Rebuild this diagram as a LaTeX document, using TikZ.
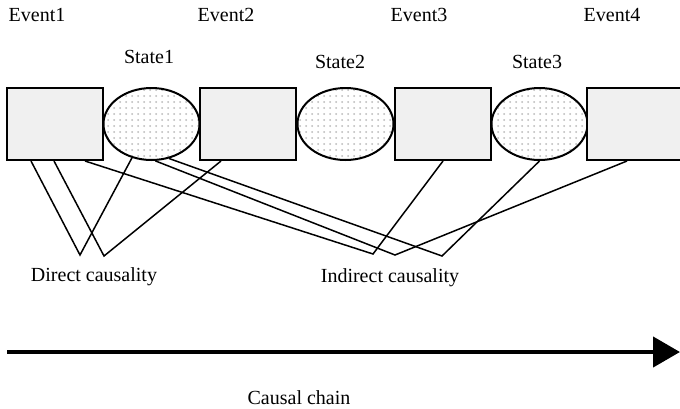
\documentclass[tikz,border=0pt]{standalone}
\usepackage{fontspec}
\setmainfont{Liberation Serif}
\usetikzlibrary{arrows.meta,patterns,shapes.geometric}
\tikzset{
  evbox/.style={rectangle, draw=black, line width=1pt, fill=gray!12, minimum width=48pt, minimum height=36pt, inner sep=0pt},
  stell/.style={ellipse, draw=black, line width=1pt, preaction={fill=white}, pattern=dots, pattern color=gray!55, minimum width=48pt, minimum height=36pt, inner sep=0pt},
  lbl/.style={font=\fontsize{10pt}{12pt}\selectfont, inner sep=0pt},
  link/.style={draw=black, line width=0.75pt, line join=miter},
  chain/.style={draw=black, line width=2.2pt, -{Triangle[length=13.5pt,width=15pt]}}
}
\begin{document}
\begin{tikzpicture}[x=0.5pt,y=-0.5pt]
\useasboundingbox[fill=white] (0,0) rectangle (680,408);
% boxes and ellipses
\node[evbox] (ev1) at (55,124) {};
\node[stell] (s1) at (151.5,124) {};
\node[evbox] (ev2) at (248,124) {};
\node[stell] (s2) at (345.5,124) {};
\node[evbox] (ev3) at (443,124) {};
\node[stell] (s3) at (539.5,124) {};
\node[evbox] (ev4) at (635,124) {};
% labels
\node[lbl] (t1) at (37,15) {Event1};
\node[lbl] (t2) at (226,15) {Event2};
\node[lbl] (t3) at (419,15) {Event3};
\node[lbl] (t4) at (612,15) {Event4};
\node[lbl] (u1) at (149,57) {State1};
\node[lbl] (u2) at (340,62) {State2};
\node[lbl] (u3) at (537,62) {State3};
\node[lbl] (dc) at (94,277) {Direct causality};
\node[lbl] (ic) at (390,278) {Indirect causality};
\node[lbl] (cc) at (299,398) {Causal chain};
% vertices
\coordinate (d1) at (80,255);
\coordinate (d2) at (104,256);
\coordinate (i1) at (373,254);
\coordinate (i2) at (395,255);
\coordinate (i3) at (442,256);
% direct causality
\draw[link] ([xshift=12.5pt]ev1.south west) -- (d1) -- (s1.240);
\draw[link] ([xshift=24pt]ev1.south west) -- (d2) -- ([xshift=11pt]ev2.south west);
% indirect causality
\draw[link] ([xshift=39.5pt]ev1.south west) -- (i1) -- (ev3.south);
\draw[link] (s1.276) -- (i2) -- ([xshift=20.5pt]ev4.south west);
\draw[link] (s1.297) -- (i3) -- (s3.south);
% causal chain
\coordinate (c0) at (7,352);
\coordinate (c1) at (680,352);
\draw[chain] (c0) -- (c1);
\end{tikzpicture}
\end{document}
